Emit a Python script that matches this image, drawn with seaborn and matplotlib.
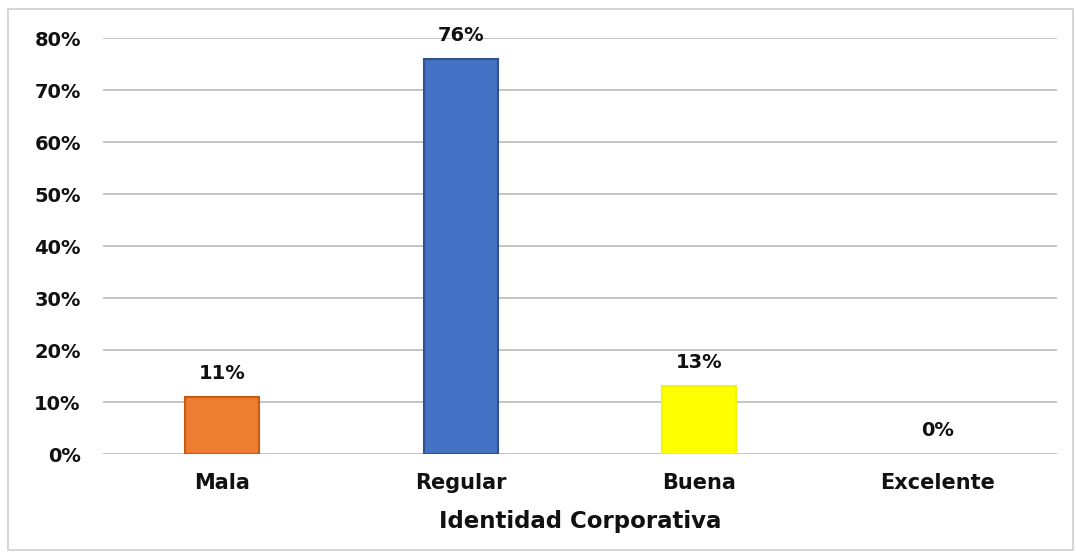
import matplotlib
matplotlib.use("Agg")
import matplotlib.pyplot as plt
from matplotlib.patches import Rectangle
import seaborn as sns
import pandas as pd

categories = ["Mala", "Regular", "Buena", "Excelente"]
values = [0.11, 0.76, 0.13, 0.0]
labels = ["11%", "76%", "13%", "0%"]
bar_colors = ["#ED7D31", "#4472C4", "#FFFF00", "#A5A5A5"]
edge_colors = ["#C55A11", "#2F528F", "#F5F500", "none"]
y_ticks = [0.0, 0.1, 0.2, 0.3, 0.4, 0.5, 0.6, 0.7, 0.8]
y_tick_labels = ["0%", "10%", "20%", "30%", "40%", "50%", "60%", "70%", "80%"]
x_title = "Identidad Corporativa"

sns.set_theme(style="white")
plt.rcParams["font.family"] = ["DejaVu Sans"]

df = pd.DataFrame({"cat": categories, "val": values})

fig = plt.figure(figsize=(10.76, 5.53), dpi=100)
ax = fig.add_axes([0.0957, 0.179, 0.8863, 0.752])

sns.barplot(data=df, x="cat", y="val", hue="cat", palette=bar_colors,
            saturation=1, legend=False, width=0.31, ax=ax, zorder=3)
for patch, ec, v in zip(ax.patches, edge_colors, values):
    patch.set_edgecolor(ec)
    patch.set_linewidth(1.5 if v > 0 else 0)

ax.set_ylim(0, 0.8)
ax.set_xlim(-0.5, 3.5)
ax.set_yticks(y_ticks)
ax.set_yticklabels(y_tick_labels)
ax.yaxis.grid(True, color="#BFBFBF", linewidth=1.3, zorder=0)
ax.set_axisbelow(True)
for s in ax.spines.values():
    s.set_visible(False)

ax.tick_params(axis="y", length=0, pad=16, labelsize=14)
ax.tick_params(axis="x", length=0, pad=14, labelsize=15)
for t in ax.get_xticklabels() + ax.get_yticklabels():
    t.set_fontweight("bold")
    t.set_color("#111111")

ax.set_ylabel("")
ax.set_xlabel(x_title, fontsize=16.5, fontweight="bold", color="#111111", labelpad=12)

for i, (v, lab) in enumerate(zip(values, labels)):
    ax.annotate(lab, xy=(i, v), xytext=(0, 17), textcoords="offset points",
                ha="center", va="center", fontsize=14, fontweight="bold",
                color="#111111")

# light frame around the whole chart
fig.patches.append(Rectangle((0.007, 0.005), 0.99, 0.978, transform=fig.transFigure,
                             fill=False, edgecolor="#D0D0D0", linewidth=1.2))

fig.savefig("out.png", dpi=100, facecolor="white")
